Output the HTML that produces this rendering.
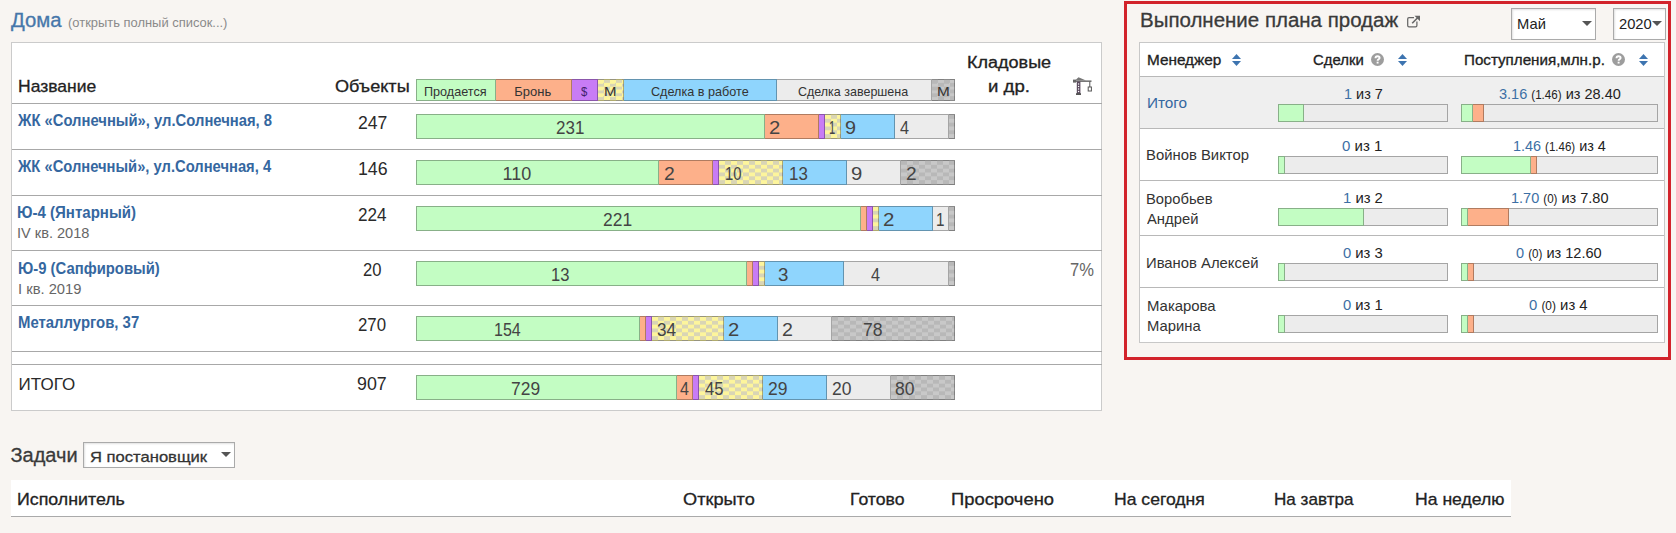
<!DOCTYPE html><html><head><meta charset="utf-8"><style>
*{margin:0;padding:0;box-sizing:border-box}
html,body{width:1676px;height:533px;overflow:hidden}
body{position:relative;background:#f8f5f2;font-family:"Liberation Sans",sans-serif;}
.t{position:absolute;white-space:nowrap;line-height:1;transform-origin:0 0}
.a{position:absolute}
</style></head><body><div class="a" style="left:11px;top:42px;width:1091px;height:369px;background:#fff;border:1px solid #cbcbcb"></div><div class="a" style="left:12px;top:103px;width:1090px;height:1px;background:#a8a8a8"></div><div class="a" style="left:12px;top:149px;width:1090px;height:1px;background:#a8a8a8"></div><div class="a" style="left:12px;top:195px;width:1090px;height:1px;background:#a8a8a8"></div><div class="a" style="left:12px;top:250px;width:1090px;height:1px;background:#a8a8a8"></div><div class="a" style="left:12px;top:305px;width:1090px;height:1px;background:#a8a8a8"></div><div class="a" style="left:12px;top:351px;width:1090px;height:1px;background:#a8a8a8"></div><div class="a" style="left:12px;top:364px;width:1090px;height:1px;background:#a8a8a8"></div><div class="a" style="left:416px;top:79px;width:539px;height:22px;background:#ececec"></div><div class="a" style="left:416px;top:79px;width:80px;height:22px;background:#c3fdc3;border-top:1px solid rgba(0,0,0,0.3);border-bottom:1px solid rgba(0,0,0,0.3);border-right:1px solid rgba(0,0,0,0.3);border-left:1px solid rgba(0,0,0,0.3);"></div><div class="a" style="left:496px;top:79px;width:76px;height:22px;background:#fdb08a;border-top:1px solid rgba(0,0,0,0.3);border-bottom:1px solid rgba(0,0,0,0.3);border-right:1px solid rgba(0,0,0,0.3);"></div><div class="a" style="left:572px;top:79px;width:26px;height:22px;background:#c87cf5;border-top:1px solid rgba(0,0,0,0.3);border-bottom:1px solid rgba(0,0,0,0.3);border-right:1px solid rgba(0,0,0,0.3);"></div><div class="a" style="left:598px;top:79px;width:26px;height:22px;background:conic-gradient(#d9d5b5 25%,#fdf59c 0 50%,#d9d5b5 0 75%,#fdf59c 0) 0 0/12px 33.333%;border-top:1px solid rgba(0,0,0,0.3);border-bottom:1px solid rgba(0,0,0,0.3);border-right:1px solid rgba(0,0,0,0.3);"></div><div class="a" style="left:624px;top:79px;width:153px;height:22px;background:#8fd5fd;border-top:1px solid rgba(0,0,0,0.3);border-bottom:1px solid rgba(0,0,0,0.3);border-right:1px solid rgba(0,0,0,0.3);"></div><div class="a" style="left:777px;top:79px;width:155px;height:22px;background:#ececec;border-top:1px solid rgba(0,0,0,0.3);border-bottom:1px solid rgba(0,0,0,0.3);border-right:1px solid rgba(0,0,0,0.3);"></div><div class="a" style="left:932px;top:79px;width:23px;height:22px;background:conic-gradient(#c8c8c8 25%,#b8b8b8 0 50%,#c8c8c8 0 75%,#b8b8b8 0) 0 0/12px 33.333%;border-top:1px solid rgba(0,0,0,0.3);border-bottom:1px solid rgba(0,0,0,0.3);border-right:1px solid rgba(0,0,0,0.3);"></div><div class="a" style="left:416px;top:114px;width:539px;height:25px;background:#ececec"></div><div class="a" style="left:416px;top:114px;width:349px;height:25px;background:#c3fdc3;border-top:1px solid rgba(0,0,0,0.3);border-bottom:1px solid rgba(0,0,0,0.3);border-right:1px solid rgba(0,0,0,0.3);border-left:1px solid rgba(0,0,0,0.3);"></div><div class="a" style="left:765px;top:114px;width:54px;height:25px;background:#fdb08a;border-top:1px solid rgba(0,0,0,0.3);border-bottom:1px solid rgba(0,0,0,0.3);border-right:1px solid rgba(0,0,0,0.3);"></div><div class="a" style="left:819px;top:114px;width:6px;height:25px;background:#c87cf5;border-top:1px solid rgba(0,0,0,0.3);border-bottom:1px solid rgba(0,0,0,0.3);border-right:1px solid rgba(0,0,0,0.3);"></div><div class="a" style="left:825px;top:114px;width:16px;height:25px;background:conic-gradient(#d9d5b5 25%,#fdf59c 0 50%,#d9d5b5 0 75%,#fdf59c 0) 0 0/12px 33.333%;border-top:1px solid rgba(0,0,0,0.3);border-bottom:1px solid rgba(0,0,0,0.3);border-right:1px solid rgba(0,0,0,0.3);"></div><div class="a" style="left:841px;top:114px;width:54px;height:25px;background:#8fd5fd;border-top:1px solid rgba(0,0,0,0.3);border-bottom:1px solid rgba(0,0,0,0.3);border-right:1px solid rgba(0,0,0,0.3);"></div><div class="a" style="left:895px;top:114px;width:54px;height:25px;background:#ececec;border-top:1px solid rgba(0,0,0,0.3);border-bottom:1px solid rgba(0,0,0,0.3);border-right:1px solid rgba(0,0,0,0.3);"></div><div class="a" style="left:949px;top:114px;width:6px;height:25px;background:conic-gradient(#c8c8c8 25%,#b8b8b8 0 50%,#c8c8c8 0 75%,#b8b8b8 0) 0 0/12px 33.333%;border-top:1px solid rgba(0,0,0,0.3);border-bottom:1px solid rgba(0,0,0,0.3);border-right:1px solid rgba(0,0,0,0.3);"></div><div class="a" style="left:416px;top:160px;width:539px;height:25px;background:#ececec"></div><div class="a" style="left:416px;top:160px;width:243px;height:25px;background:#c3fdc3;border-top:1px solid rgba(0,0,0,0.3);border-bottom:1px solid rgba(0,0,0,0.3);border-right:1px solid rgba(0,0,0,0.3);border-left:1px solid rgba(0,0,0,0.3);"></div><div class="a" style="left:659px;top:160px;width:54px;height:25px;background:#fdb08a;border-top:1px solid rgba(0,0,0,0.3);border-bottom:1px solid rgba(0,0,0,0.3);border-right:1px solid rgba(0,0,0,0.3);"></div><div class="a" style="left:713px;top:160px;width:6px;height:25px;background:#c87cf5;border-top:1px solid rgba(0,0,0,0.3);border-bottom:1px solid rgba(0,0,0,0.3);border-right:1px solid rgba(0,0,0,0.3);"></div><div class="a" style="left:719px;top:160px;width:64px;height:25px;background:conic-gradient(#d9d5b5 25%,#fdf59c 0 50%,#d9d5b5 0 75%,#fdf59c 0) 0 0/12px 33.333%;border-top:1px solid rgba(0,0,0,0.3);border-bottom:1px solid rgba(0,0,0,0.3);border-right:1px solid rgba(0,0,0,0.3);"></div><div class="a" style="left:783px;top:160px;width:64px;height:25px;background:#8fd5fd;border-top:1px solid rgba(0,0,0,0.3);border-bottom:1px solid rgba(0,0,0,0.3);border-right:1px solid rgba(0,0,0,0.3);"></div><div class="a" style="left:847px;top:160px;width:54px;height:25px;background:#ececec;border-top:1px solid rgba(0,0,0,0.3);border-bottom:1px solid rgba(0,0,0,0.3);border-right:1px solid rgba(0,0,0,0.3);"></div><div class="a" style="left:901px;top:160px;width:54px;height:25px;background:conic-gradient(#c8c8c8 25%,#b8b8b8 0 50%,#c8c8c8 0 75%,#b8b8b8 0) 0 0/12px 33.333%;border-top:1px solid rgba(0,0,0,0.3);border-bottom:1px solid rgba(0,0,0,0.3);border-right:1px solid rgba(0,0,0,0.3);"></div><div class="a" style="left:416px;top:206px;width:539px;height:25px;background:#ececec"></div><div class="a" style="left:416px;top:206px;width:445px;height:25px;background:#c3fdc3;border-top:1px solid rgba(0,0,0,0.3);border-bottom:1px solid rgba(0,0,0,0.3);border-right:1px solid rgba(0,0,0,0.3);border-left:1px solid rgba(0,0,0,0.3);"></div><div class="a" style="left:861px;top:206px;width:6px;height:25px;background:#fdb08a;border-top:1px solid rgba(0,0,0,0.3);border-bottom:1px solid rgba(0,0,0,0.3);border-right:1px solid rgba(0,0,0,0.3);"></div><div class="a" style="left:867px;top:206px;width:6px;height:25px;background:#c87cf5;border-top:1px solid rgba(0,0,0,0.3);border-bottom:1px solid rgba(0,0,0,0.3);border-right:1px solid rgba(0,0,0,0.3);"></div><div class="a" style="left:873px;top:206px;width:6px;height:25px;background:conic-gradient(#d9d5b5 25%,#fdf59c 0 50%,#d9d5b5 0 75%,#fdf59c 0) 0 0/12px 33.333%;border-top:1px solid rgba(0,0,0,0.3);border-bottom:1px solid rgba(0,0,0,0.3);border-right:1px solid rgba(0,0,0,0.3);"></div><div class="a" style="left:879px;top:206px;width:54px;height:25px;background:#8fd5fd;border-top:1px solid rgba(0,0,0,0.3);border-bottom:1px solid rgba(0,0,0,0.3);border-right:1px solid rgba(0,0,0,0.3);"></div><div class="a" style="left:933px;top:206px;width:16px;height:25px;background:#ececec;border-top:1px solid rgba(0,0,0,0.3);border-bottom:1px solid rgba(0,0,0,0.3);border-right:1px solid rgba(0,0,0,0.3);"></div><div class="a" style="left:949px;top:206px;width:6px;height:25px;background:conic-gradient(#c8c8c8 25%,#b8b8b8 0 50%,#c8c8c8 0 75%,#b8b8b8 0) 0 0/12px 33.333%;border-top:1px solid rgba(0,0,0,0.3);border-bottom:1px solid rgba(0,0,0,0.3);border-right:1px solid rgba(0,0,0,0.3);"></div><div class="a" style="left:416px;top:261px;width:539px;height:25px;background:#ececec"></div><div class="a" style="left:416px;top:261px;width:331px;height:25px;background:#c3fdc3;border-top:1px solid rgba(0,0,0,0.3);border-bottom:1px solid rgba(0,0,0,0.3);border-right:1px solid rgba(0,0,0,0.3);border-left:1px solid rgba(0,0,0,0.3);"></div><div class="a" style="left:747px;top:261px;width:6px;height:25px;background:#fdb08a;border-top:1px solid rgba(0,0,0,0.3);border-bottom:1px solid rgba(0,0,0,0.3);border-right:1px solid rgba(0,0,0,0.3);"></div><div class="a" style="left:753px;top:261px;width:6px;height:25px;background:#c87cf5;border-top:1px solid rgba(0,0,0,0.3);border-bottom:1px solid rgba(0,0,0,0.3);border-right:1px solid rgba(0,0,0,0.3);"></div><div class="a" style="left:759px;top:261px;width:6px;height:25px;background:conic-gradient(#d9d5b5 25%,#fdf59c 0 50%,#d9d5b5 0 75%,#fdf59c 0) 0 0/12px 33.333%;border-top:1px solid rgba(0,0,0,0.3);border-bottom:1px solid rgba(0,0,0,0.3);border-right:1px solid rgba(0,0,0,0.3);"></div><div class="a" style="left:765px;top:261px;width:79px;height:25px;background:#8fd5fd;border-top:1px solid rgba(0,0,0,0.3);border-bottom:1px solid rgba(0,0,0,0.3);border-right:1px solid rgba(0,0,0,0.3);"></div><div class="a" style="left:844px;top:261px;width:105px;height:25px;background:#ececec;border-top:1px solid rgba(0,0,0,0.3);border-bottom:1px solid rgba(0,0,0,0.3);border-right:1px solid rgba(0,0,0,0.3);"></div><div class="a" style="left:949px;top:261px;width:6px;height:25px;background:conic-gradient(#c8c8c8 25%,#b8b8b8 0 50%,#c8c8c8 0 75%,#b8b8b8 0) 0 0/12px 33.333%;border-top:1px solid rgba(0,0,0,0.3);border-bottom:1px solid rgba(0,0,0,0.3);border-right:1px solid rgba(0,0,0,0.3);"></div><div class="a" style="left:416px;top:316px;width:539px;height:25px;background:#ececec"></div><div class="a" style="left:416px;top:316px;width:224px;height:25px;background:#c3fdc3;border-top:1px solid rgba(0,0,0,0.3);border-bottom:1px solid rgba(0,0,0,0.3);border-right:1px solid rgba(0,0,0,0.3);border-left:1px solid rgba(0,0,0,0.3);"></div><div class="a" style="left:640px;top:316px;width:6px;height:25px;background:#fdb08a;border-top:1px solid rgba(0,0,0,0.3);border-bottom:1px solid rgba(0,0,0,0.3);border-right:1px solid rgba(0,0,0,0.3);"></div><div class="a" style="left:646px;top:316px;width:6px;height:25px;background:#c87cf5;border-top:1px solid rgba(0,0,0,0.3);border-bottom:1px solid rgba(0,0,0,0.3);border-right:1px solid rgba(0,0,0,0.3);"></div><div class="a" style="left:652px;top:316px;width:72px;height:25px;background:conic-gradient(#d9d5b5 25%,#fdf59c 0 50%,#d9d5b5 0 75%,#fdf59c 0) 0 0/12px 33.333%;border-top:1px solid rgba(0,0,0,0.3);border-bottom:1px solid rgba(0,0,0,0.3);border-right:1px solid rgba(0,0,0,0.3);"></div><div class="a" style="left:724px;top:316px;width:54px;height:25px;background:#8fd5fd;border-top:1px solid rgba(0,0,0,0.3);border-bottom:1px solid rgba(0,0,0,0.3);border-right:1px solid rgba(0,0,0,0.3);"></div><div class="a" style="left:778px;top:316px;width:54px;height:25px;background:#ececec;border-top:1px solid rgba(0,0,0,0.3);border-bottom:1px solid rgba(0,0,0,0.3);border-right:1px solid rgba(0,0,0,0.3);"></div><div class="a" style="left:832px;top:316px;width:123px;height:25px;background:conic-gradient(#c8c8c8 25%,#b8b8b8 0 50%,#c8c8c8 0 75%,#b8b8b8 0) 0 0/12px 33.333%;border-top:1px solid rgba(0,0,0,0.3);border-bottom:1px solid rgba(0,0,0,0.3);border-right:1px solid rgba(0,0,0,0.3);"></div><div class="a" style="left:416px;top:375px;width:539px;height:25px;background:#ececec"></div><div class="a" style="left:416px;top:375px;width:261px;height:25px;background:#c3fdc3;border-top:1px solid rgba(0,0,0,0.3);border-bottom:1px solid rgba(0,0,0,0.3);border-right:1px solid rgba(0,0,0,0.3);border-left:1px solid rgba(0,0,0,0.3);"></div><div class="a" style="left:677px;top:375px;width:16px;height:25px;background:#fdb08a;border-top:1px solid rgba(0,0,0,0.3);border-bottom:1px solid rgba(0,0,0,0.3);border-right:1px solid rgba(0,0,0,0.3);"></div><div class="a" style="left:693px;top:375px;width:6px;height:25px;background:#c87cf5;border-top:1px solid rgba(0,0,0,0.3);border-bottom:1px solid rgba(0,0,0,0.3);border-right:1px solid rgba(0,0,0,0.3);"></div><div class="a" style="left:699px;top:375px;width:64px;height:25px;background:conic-gradient(#d9d5b5 25%,#fdf59c 0 50%,#d9d5b5 0 75%,#fdf59c 0) 0 0/12px 33.333%;border-top:1px solid rgba(0,0,0,0.3);border-bottom:1px solid rgba(0,0,0,0.3);border-right:1px solid rgba(0,0,0,0.3);"></div><div class="a" style="left:763px;top:375px;width:64px;height:25px;background:#8fd5fd;border-top:1px solid rgba(0,0,0,0.3);border-bottom:1px solid rgba(0,0,0,0.3);border-right:1px solid rgba(0,0,0,0.3);"></div><div class="a" style="left:827px;top:375px;width:64px;height:25px;background:#ececec;border-top:1px solid rgba(0,0,0,0.3);border-bottom:1px solid rgba(0,0,0,0.3);border-right:1px solid rgba(0,0,0,0.3);"></div><div class="a" style="left:891px;top:375px;width:64px;height:25px;background:conic-gradient(#c8c8c8 25%,#b8b8b8 0 50%,#c8c8c8 0 75%,#b8b8b8 0) 0 0/12px 33.333%;border-top:1px solid rgba(0,0,0,0.3);border-bottom:1px solid rgba(0,0,0,0.3);border-right:1px solid rgba(0,0,0,0.3);"></div><div class="a" style="left:1124px;top:1px;width:547px;height:359px;border:3px solid #d2232b"></div><div class="a" style="left:1511px;top:8px;width:85px;height:32px;background:#fff;border:1px solid #aaa;box-shadow:inset 1px 1px 2px rgba(0,0,0,.12)"></div><div class="a" style="left:1613px;top:8px;width:53px;height:32px;background:#fff;border:1px solid #aaa;box-shadow:inset 1px 1px 2px rgba(0,0,0,.12)"></div><div class="a" style="left:1139px;top:42px;width:526px;height:301px;background:#fff;border:1px solid #c8c8c8"></div><div class="a" style="left:1140px;top:76px;width:524px;height:52px;background:#efefef"></div><div class="a" style="left:1140px;top:76px;width:524px;height:1px;background:#b8b8b8"></div><div class="a" style="left:1140px;top:128px;width:524px;height:1px;background:#b8b8b8"></div><div class="a" style="left:1140px;top:180px;width:524px;height:1px;background:#b8b8b8"></div><div class="a" style="left:1140px;top:235px;width:524px;height:1px;background:#b8b8b8"></div><div class="a" style="left:1140px;top:287px;width:524px;height:1px;background:#b8b8b8"></div><div class="a" style="left:1278px;top:104px;width:170px;height:18px;background:#ececec"></div><div class="a" style="left:1278px;top:104px;width:26px;height:18px;background:#c3fdc3;border-top:1px solid rgba(0,0,0,0.3);border-bottom:1px solid rgba(0,0,0,0.3);border-right:1px solid rgba(0,0,0,0.3);border-left:1px solid rgba(0,0,0,0.3);"></div><div class="a" style="left:1304px;top:104px;width:144px;height:18px;background:#ececec;border-top:1px solid rgba(0,0,0,0.3);border-bottom:1px solid rgba(0,0,0,0.3);border-right:1px solid rgba(0,0,0,0.3);"></div><div class="a" style="left:1461px;top:104px;width:197px;height:18px;background:#ececec"></div><div class="a" style="left:1461px;top:104px;width:12px;height:18px;background:#c3fdc3;border-top:1px solid rgba(0,0,0,0.3);border-bottom:1px solid rgba(0,0,0,0.3);border-right:1px solid rgba(0,0,0,0.3);border-left:1px solid rgba(0,0,0,0.3);"></div><div class="a" style="left:1473px;top:104px;width:11px;height:18px;background:#fdb08a;border-top:1px solid rgba(0,0,0,0.3);border-bottom:1px solid rgba(0,0,0,0.3);border-right:1px solid rgba(0,0,0,0.3);"></div><div class="a" style="left:1484px;top:104px;width:174px;height:18px;background:#ececec;border-top:1px solid rgba(0,0,0,0.3);border-bottom:1px solid rgba(0,0,0,0.3);border-right:1px solid rgba(0,0,0,0.3);"></div><div class="a" style="left:1278px;top:156px;width:170px;height:18px;background:#ececec"></div><div class="a" style="left:1278px;top:156px;width:7px;height:18px;background:#c3fdc3;border-top:1px solid rgba(0,0,0,0.3);border-bottom:1px solid rgba(0,0,0,0.3);border-right:1px solid rgba(0,0,0,0.3);border-left:1px solid rgba(0,0,0,0.3);"></div><div class="a" style="left:1285px;top:156px;width:163px;height:18px;background:#ececec;border-top:1px solid rgba(0,0,0,0.3);border-bottom:1px solid rgba(0,0,0,0.3);border-right:1px solid rgba(0,0,0,0.3);"></div><div class="a" style="left:1461px;top:156px;width:197px;height:18px;background:#ececec"></div><div class="a" style="left:1461px;top:156px;width:70px;height:18px;background:#c3fdc3;border-top:1px solid rgba(0,0,0,0.3);border-bottom:1px solid rgba(0,0,0,0.3);border-right:1px solid rgba(0,0,0,0.3);border-left:1px solid rgba(0,0,0,0.3);"></div><div class="a" style="left:1531px;top:156px;width:6px;height:18px;background:#fdb08a;border-top:1px solid rgba(0,0,0,0.3);border-bottom:1px solid rgba(0,0,0,0.3);border-right:1px solid rgba(0,0,0,0.3);"></div><div class="a" style="left:1537px;top:156px;width:121px;height:18px;background:#ececec;border-top:1px solid rgba(0,0,0,0.3);border-bottom:1px solid rgba(0,0,0,0.3);border-right:1px solid rgba(0,0,0,0.3);"></div><div class="a" style="left:1278px;top:208px;width:170px;height:18px;background:#ececec"></div><div class="a" style="left:1278px;top:208px;width:86px;height:18px;background:#c3fdc3;border-top:1px solid rgba(0,0,0,0.3);border-bottom:1px solid rgba(0,0,0,0.3);border-right:1px solid rgba(0,0,0,0.3);border-left:1px solid rgba(0,0,0,0.3);"></div><div class="a" style="left:1364px;top:208px;width:84px;height:18px;background:#ececec;border-top:1px solid rgba(0,0,0,0.3);border-bottom:1px solid rgba(0,0,0,0.3);border-right:1px solid rgba(0,0,0,0.3);"></div><div class="a" style="left:1461px;top:208px;width:197px;height:18px;background:#ececec"></div><div class="a" style="left:1461px;top:208px;width:7px;height:18px;background:#c3fdc3;border-top:1px solid rgba(0,0,0,0.3);border-bottom:1px solid rgba(0,0,0,0.3);border-right:1px solid rgba(0,0,0,0.3);border-left:1px solid rgba(0,0,0,0.3);"></div><div class="a" style="left:1468px;top:208px;width:41px;height:18px;background:#fdb08a;border-top:1px solid rgba(0,0,0,0.3);border-bottom:1px solid rgba(0,0,0,0.3);border-right:1px solid rgba(0,0,0,0.3);"></div><div class="a" style="left:1509px;top:208px;width:149px;height:18px;background:#ececec;border-top:1px solid rgba(0,0,0,0.3);border-bottom:1px solid rgba(0,0,0,0.3);border-right:1px solid rgba(0,0,0,0.3);"></div><div class="a" style="left:1278px;top:263px;width:170px;height:18px;background:#ececec"></div><div class="a" style="left:1278px;top:263px;width:7px;height:18px;background:#c3fdc3;border-top:1px solid rgba(0,0,0,0.3);border-bottom:1px solid rgba(0,0,0,0.3);border-right:1px solid rgba(0,0,0,0.3);border-left:1px solid rgba(0,0,0,0.3);"></div><div class="a" style="left:1285px;top:263px;width:163px;height:18px;background:#ececec;border-top:1px solid rgba(0,0,0,0.3);border-bottom:1px solid rgba(0,0,0,0.3);border-right:1px solid rgba(0,0,0,0.3);"></div><div class="a" style="left:1461px;top:263px;width:197px;height:18px;background:#ececec"></div><div class="a" style="left:1461px;top:263px;width:7px;height:18px;background:#c3fdc3;border-top:1px solid rgba(0,0,0,0.3);border-bottom:1px solid rgba(0,0,0,0.3);border-right:1px solid rgba(0,0,0,0.3);border-left:1px solid rgba(0,0,0,0.3);"></div><div class="a" style="left:1468px;top:263px;width:6px;height:18px;background:#fdb08a;border-top:1px solid rgba(0,0,0,0.3);border-bottom:1px solid rgba(0,0,0,0.3);border-right:1px solid rgba(0,0,0,0.3);"></div><div class="a" style="left:1474px;top:263px;width:184px;height:18px;background:#ececec;border-top:1px solid rgba(0,0,0,0.3);border-bottom:1px solid rgba(0,0,0,0.3);border-right:1px solid rgba(0,0,0,0.3);"></div><div class="a" style="left:1278px;top:315px;width:170px;height:18px;background:#ececec"></div><div class="a" style="left:1278px;top:315px;width:7px;height:18px;background:#c3fdc3;border-top:1px solid rgba(0,0,0,0.3);border-bottom:1px solid rgba(0,0,0,0.3);border-right:1px solid rgba(0,0,0,0.3);border-left:1px solid rgba(0,0,0,0.3);"></div><div class="a" style="left:1285px;top:315px;width:163px;height:18px;background:#ececec;border-top:1px solid rgba(0,0,0,0.3);border-bottom:1px solid rgba(0,0,0,0.3);border-right:1px solid rgba(0,0,0,0.3);"></div><div class="a" style="left:1461px;top:315px;width:197px;height:18px;background:#ececec"></div><div class="a" style="left:1461px;top:315px;width:7px;height:18px;background:#c3fdc3;border-top:1px solid rgba(0,0,0,0.3);border-bottom:1px solid rgba(0,0,0,0.3);border-right:1px solid rgba(0,0,0,0.3);border-left:1px solid rgba(0,0,0,0.3);"></div><div class="a" style="left:1468px;top:315px;width:6px;height:18px;background:#fdb08a;border-top:1px solid rgba(0,0,0,0.3);border-bottom:1px solid rgba(0,0,0,0.3);border-right:1px solid rgba(0,0,0,0.3);"></div><div class="a" style="left:1474px;top:315px;width:184px;height:18px;background:#ececec;border-top:1px solid rgba(0,0,0,0.3);border-bottom:1px solid rgba(0,0,0,0.3);border-right:1px solid rgba(0,0,0,0.3);"></div><div class="a" style="left:83px;top:442px;width:152px;height:26px;background:#fff;border:1px solid #aaa;box-shadow:inset 1px 1px 2px rgba(0,0,0,.12)"></div><div class="a" style="left:11px;top:480px;width:1500px;height:37px;background:#fff;border-bottom:1px solid #aaa"></div><div class="t" style="left:11.20px;top:10.00px;font-size:20px;-webkit-text-stroke:0.30px currentColor;transform:scaleX(1.0160);color:#4677aa">Дома</div><div class="t" style="left:67.51px;top:16.00px;font-size:13px;font-weight:normal;transform:scaleX(0.9943);color:#8a8a8a">(открыть полный список...)</div><div class="t" style="left:18.37px;top:78.00px;font-size:17px;-webkit-text-stroke:0.30px currentColor;transform:scaleX(1.0307);color:#222">Название</div><div class="t" style="left:334.94px;top:78.00px;font-size:17px;-webkit-text-stroke:0.30px currentColor;transform:scaleX(1.0647);color:#222">Объекты</div><div class="t" style="left:424.33px;top:85.00px;font-size:13px;font-weight:normal;transform:scaleX(0.9714);color:#333">Продается</div><div class="t" style="left:514.30px;top:85.00px;font-size:13px;font-weight:normal;color:#333">Бронь</div><div class="t" style="left:581.30px;top:85.00px;font-size:13px;font-weight:normal;transform:scaleX(0.8714);color:#40206a">$</div><div class="t" style="left:604.24px;top:85.00px;font-size:13px;font-weight:normal;transform:scaleX(1.1556);color:#333">М</div><div class="t" style="left:650.83px;top:85.00px;font-size:13px;font-weight:normal;transform:scaleX(0.9717);color:#333">Сделка в работе</div><div class="t" style="left:798.04px;top:85.00px;font-size:13px;font-weight:normal;transform:scaleX(0.9605);color:#333">Сделка завершена</div><div class="t" style="left:936.52px;top:85.00px;font-size:13px;font-weight:normal;transform:scaleX(1.1778);color:#333">М</div><div class="t" style="left:967.47px;top:55.00px;font-size:16px;-webkit-text-stroke:0.30px currentColor;transform:scaleX(1.1260);color:#222">Кладовые</div><div class="t" style="left:988.34px;top:79.00px;font-size:16px;-webkit-text-stroke:0.30px currentColor;transform:scaleX(1.1618);color:#222">и др.</div><div class="t" style="left:18.40px;top:113.00px;font-size:16px;font-weight:bold;transform:scaleX(0.9252);color:#3567a0">ЖК «Солнечный», ул.Солнечная, 8</div><div class="t" style="left:18.40px;top:159.00px;font-size:16px;font-weight:bold;transform:scaleX(0.9218);color:#3567a0">ЖК «Солнечный», ул.Солнечная, 4</div><div class="t" style="left:17.46px;top:205.00px;font-size:16px;font-weight:bold;transform:scaleX(0.9392);color:#3567a0">Ю-4 (Янтарный)</div><div class="t" style="left:17.43px;top:225.00px;font-size:15px;font-weight:normal;transform:scaleX(0.9712);color:#666">IV кв. 2018</div><div class="t" style="left:17.57px;top:261.00px;font-size:16px;font-weight:bold;transform:scaleX(0.9272);color:#3567a0">Ю-9 (Сапфировый)</div><div class="t" style="left:17.52px;top:281.00px;font-size:15px;font-weight:normal;transform:scaleX(0.9825);color:#666">I кв. 2019</div><div class="t" style="left:17.57px;top:315.00px;font-size:16px;font-weight:bold;transform:scaleX(0.9318);color:#3567a0">Металлургов, 37</div><div class="t" style="left:18.60px;top:376.00px;font-size:17px;font-weight:normal;color:#2a2a2a">ИТОГО</div><div class="t" style="left:357.62px;top:114.00px;font-size:18px;font-weight:normal;transform:scaleX(0.9786);color:#2a2a2a">247</div><div class="t" style="left:357.51px;top:160.00px;font-size:18px;font-weight:normal;transform:scaleX(0.9857);color:#2a2a2a">146</div><div class="t" style="left:357.55px;top:206.00px;font-size:18px;font-weight:normal;transform:scaleX(0.9517);color:#2a2a2a">224</div><div class="t" style="left:362.58px;top:261.00px;font-size:18px;font-weight:normal;transform:scaleX(0.9211);color:#2a2a2a">20</div><div class="t" style="left:357.77px;top:316.00px;font-size:18px;font-weight:normal;transform:scaleX(0.9345);color:#2a2a2a">270</div><div class="t" style="left:357.11px;top:375.00px;font-size:18px;font-weight:normal;transform:scaleX(0.9893);color:#2a2a2a">907</div><div class="t" style="left:1070.08px;top:261.00px;font-size:18px;font-weight:normal;transform:scaleX(0.9200);color:#666">7%</div><div class="t" style="left:555.56px;top:119.00px;font-size:18px;font-weight:normal;transform:scaleX(0.9429);color:#444">231</div><div class="t" style="left:769.27px;top:119.00px;font-size:18px;font-weight:normal;transform:scaleX(1.1250);color:#444">2</div><div class="t" style="left:828.98px;top:119.00px;font-size:18px;font-weight:normal;transform:scaleX(0.6250);color:#444">1</div><div class="t" style="left:845.40px;top:119.00px;font-size:18px;font-weight:normal;transform:scaleX(1.1000);color:#444">9</div><div class="t" style="left:900.40px;top:119.00px;font-size:18px;font-weight:normal;transform:scaleX(0.9000);color:#444">4</div><div class="t" style="left:502.60px;top:165.00px;font-size:18px;font-weight:normal;color:#444">110</div><div class="t" style="left:663.52px;top:165.00px;font-size:18px;font-weight:normal;transform:scaleX(1.0750);color:#444">2</div><div class="t" style="left:725.47px;top:165.00px;font-size:18px;font-weight:normal;transform:scaleX(0.8263);color:#444">10</div><div class="t" style="left:788.56px;top:165.00px;font-size:18px;font-weight:normal;transform:scaleX(0.9389);color:#444">13</div><div class="t" style="left:851.48px;top:165.00px;font-size:18px;font-weight:normal;transform:scaleX(1.1250);color:#444">9</div><div class="t" style="left:905.64px;top:165.00px;font-size:18px;font-weight:normal;transform:scaleX(1.0625);color:#444">2</div><div class="t" style="left:602.83px;top:211.00px;font-size:18px;font-weight:normal;transform:scaleX(0.9679);color:#444">221</div><div class="t" style="left:882.96px;top:211.00px;font-size:18px;font-weight:normal;transform:scaleX(1.1375);color:#444">2</div><div class="t" style="left:936.15px;top:211.00px;font-size:18px;font-weight:normal;transform:scaleX(0.8500);color:#444">1</div><div class="t" style="left:551.48px;top:266.00px;font-size:18px;font-weight:normal;transform:scaleX(0.9222);color:#444">13</div><div class="t" style="left:777.86px;top:266.00px;font-size:18px;font-weight:normal;transform:scaleX(1.0375);color:#444">3</div><div class="t" style="left:870.70px;top:266.00px;font-size:18px;font-weight:normal;transform:scaleX(0.9000);color:#444">4</div><div class="t" style="left:493.81px;top:321.00px;font-size:18px;font-weight:normal;transform:scaleX(0.8897);color:#444">154</div><div class="t" style="left:656.75px;top:321.00px;font-size:18px;font-weight:normal;transform:scaleX(0.9526);color:#444">34</div><div class="t" style="left:727.88px;top:321.00px;font-size:18px;font-weight:normal;transform:scaleX(1.1250);color:#444">2</div><div class="t" style="left:781.91px;top:321.00px;font-size:18px;font-weight:normal;transform:scaleX(1.0875);color:#444">2</div><div class="t" style="left:862.72px;top:321.00px;font-size:18px;font-weight:normal;transform:scaleX(0.9778);color:#444">78</div><div class="t" style="left:511.23px;top:380.00px;font-size:18px;font-weight:normal;transform:scaleX(0.9679);color:#444">729</div><div class="t" style="left:679.70px;top:380.00px;font-size:18px;font-weight:normal;transform:scaleX(0.8900);color:#444">4</div><div class="t" style="left:704.50px;top:380.00px;font-size:18px;font-weight:normal;transform:scaleX(0.9211);color:#444">45</div><div class="t" style="left:767.73px;top:380.00px;font-size:18px;font-weight:normal;transform:scaleX(0.9722);color:#444">29</div><div class="t" style="left:831.53px;top:380.00px;font-size:18px;font-weight:normal;transform:scaleX(0.9737);color:#444">20</div><div class="t" style="left:895.23px;top:380.00px;font-size:18px;font-weight:normal;transform:scaleX(0.9737);color:#444">80</div><div class="t" style="left:1139.98px;top:10.00px;font-size:20px;-webkit-text-stroke:0.30px currentColor;transform:scaleX(1.0239);color:#3a3a3a">Выполнение плана продаж</div><div class="t" style="left:1516.52px;top:16.00px;font-size:15px;font-weight:normal;transform:scaleX(0.9821);color:#222">Май</div><div class="t" style="left:1618.62px;top:16.00px;font-size:15px;font-weight:normal;transform:scaleX(0.9813);color:#222">2020</div><div class="t" style="left:1146.61px;top:53.00px;font-size:14px;-webkit-text-stroke:0.30px currentColor;transform:scaleX(1.0940);color:#222">Менеджер</div><div class="t" style="left:1312.70px;top:53.00px;font-size:14px;-webkit-text-stroke:0.30px currentColor;transform:scaleX(1.0638);color:#222">Сделки</div><div class="t" style="left:1464.32px;top:53.00px;font-size:14px;-webkit-text-stroke:0.30px currentColor;transform:scaleX(1.0828);color:#222">Поступления,млн.р.</div><div class="t" style="left:1146.68px;top:95.00px;font-size:15px;font-weight:normal;transform:scaleX(1.0211);color:#3567a0">Итого</div><div class="t" style="left:1146.21px;top:147.00px;font-size:15px;font-weight:normal;transform:scaleX(0.9903);color:#333">Войнов Виктор</div><div class="t" style="left:1146.22px;top:191.00px;font-size:15px;font-weight:normal;transform:scaleX(0.9833);color:#333">Воробьев</div><div class="t" style="left:1147.20px;top:211.00px;font-size:15px;font-weight:normal;transform:scaleX(0.9863);color:#333">Андрей</div><div class="t" style="left:1145.81px;top:255.00px;font-size:15px;font-weight:normal;transform:scaleX(0.9884);color:#333">Иванов Алексей</div><div class="t" style="left:1146.51px;top:298.00px;font-size:15px;font-weight:normal;transform:scaleX(0.9941);color:#333">Макарова</div><div class="t" style="left:1146.51px;top:318.00px;font-size:15px;font-weight:normal;transform:scaleX(0.9870);color:#333">Марина</div><div class="t" style="left:1343.64px;top:86.00px;font-size:15px;font-weight:normal;transform:scaleX(0.9641);color:#222"><span style="color:#3c6fa5">1</span> из 7</div><div class="t" style="left:1342.00px;top:138.00px;font-size:15px;font-weight:normal;color:#222"><span style="color:#3c6fa5">0</span> из 1</div><div class="t" style="left:1342.51px;top:190.00px;font-size:15px;font-weight:normal;transform:scaleX(0.9897);color:#222"><span style="color:#3c6fa5">1</span> из 2</div><div class="t" style="left:1342.51px;top:245.00px;font-size:15px;font-weight:normal;transform:scaleX(0.9872);color:#222"><span style="color:#3c6fa5">0</span> из 3</div><div class="t" style="left:1342.51px;top:297.00px;font-size:15px;font-weight:normal;transform:scaleX(0.9872);color:#222"><span style="color:#3c6fa5">0</span> из 1</div><div class="t" style="left:1498.53px;top:86.00px;font-size:15px;font-weight:normal;transform:scaleX(0.9677);color:#222"><span style="color:#3c6fa5">3.16</span> <span style="font-size:12px">(1.46)</span> из 28.40</div><div class="t" style="left:1513.44px;top:138.00px;font-size:15px;font-weight:normal;transform:scaleX(0.9600);color:#222"><span style="color:#3c6fa5">1.46</span> <span style="font-size:12px">(1.46)</span> из 4</div><div class="t" style="left:1510.73px;top:190.00px;font-size:15px;font-weight:normal;transform:scaleX(0.9667);color:#222"><span style="color:#3c6fa5">1.70</span> <span style="font-size:12px">(0)</span> из 7.80</div><div class="t" style="left:1516.33px;top:245.00px;font-size:15px;font-weight:normal;transform:scaleX(0.9701);color:#222"><span style="color:#3c6fa5">0</span> <span style="font-size:12px">(0)</span> из 12.60</div><div class="t" style="left:1529.41px;top:297.00px;font-size:15px;font-weight:normal;transform:scaleX(0.9914);color:#222"><span style="color:#3c6fa5">0</span> <span style="font-size:12px">(0)</span> из 4</div><div class="t" style="left:10.50px;top:445.00px;font-size:20px;-webkit-text-stroke:0.30px currentColor;color:#3a3a3a">Задачи</div><div class="t" style="left:89.89px;top:449.00px;font-size:15px;-webkit-text-stroke:0.30px currentColor;transform:scaleX(1.1057);color:#333">Я постановщик</div><div class="t" style="left:17.15px;top:491.00px;font-size:17px;-webkit-text-stroke:0.30px currentColor;transform:scaleX(1.0461);color:#222">Исполнитель</div><div class="t" style="left:682.63px;top:491.00px;font-size:17px;-webkit-text-stroke:0.30px currentColor;transform:scaleX(1.0697);color:#222">Открыто</div><div class="t" style="left:849.56px;top:491.00px;font-size:17px;-webkit-text-stroke:0.30px currentColor;transform:scaleX(1.0392);color:#222">Готово</div><div class="t" style="left:950.92px;top:491.00px;font-size:17px;-webkit-text-stroke:0.30px currentColor;transform:scaleX(1.0809);color:#222">Просрочено</div><div class="t" style="left:1114.07px;top:491.00px;font-size:17px;-webkit-text-stroke:0.30px currentColor;transform:scaleX(1.0337);color:#222">На сегодня</div><div class="t" style="left:1274.49px;top:491.00px;font-size:17px;-webkit-text-stroke:0.30px currentColor;transform:scaleX(1.0051);color:#222">На завтра</div><div class="t" style="left:1414.56px;top:491.00px;font-size:17px;-webkit-text-stroke:0.30px currentColor;transform:scaleX(1.0353);color:#222">На неделю</div><svg class="a" style="left:1582px;top:21px" width="10" height="5"><polygon points="0,0 10,0 5,5" fill="#555"/></svg><svg class="a" style="left:1652px;top:21px" width="10" height="5"><polygon points="0,0 10,0 5,5" fill="#555"/></svg><svg class="a" style="left:221px;top:452px" width="10" height="5"><polygon points="0,0 10,0 5,5" fill="#555"/></svg><svg class="a" style="left:1232px;top:54px" width="9" height="12"><polygon points="0,5 4.5,0 9,5" fill="#3d74b0"/><polygon points="0,7 9,7 4.5,12" fill="#3d74b0"/></svg><svg class="a" style="left:1398px;top:54px" width="9" height="12"><polygon points="0,5 4.5,0 9,5" fill="#3d74b0"/><polygon points="0,7 9,7 4.5,12" fill="#3d74b0"/></svg><svg class="a" style="left:1639px;top:54px" width="9" height="12"><polygon points="0,5 4.5,0 9,5" fill="#3d74b0"/><polygon points="0,7 9,7 4.5,12" fill="#3d74b0"/></svg><svg class="a" style="left:1371.3px;top:53px" width="13" height="13"><circle cx="6.5" cy="6.5" r="6.5" fill="#9d9d9d"/><path d="M4.5,5.3 C4.5,3.9 5.4,3.2 6.5,3.2 C7.7,3.2 8.6,3.9 8.6,5 C8.6,6.3 6.6,6.4 6.6,7.8" fill="none" stroke="#fff" stroke-width="1.9"/><rect x="5.65" y="8.7" width="1.9" height="1.8" fill="#fff"/></svg><svg class="a" style="left:1612.3px;top:53px" width="13" height="13"><circle cx="6.5" cy="6.5" r="6.5" fill="#9d9d9d"/><path d="M4.5,5.3 C4.5,3.9 5.4,3.2 6.5,3.2 C7.7,3.2 8.6,3.9 8.6,5 C8.6,6.3 6.6,6.4 6.6,7.8" fill="none" stroke="#fff" stroke-width="1.9"/><rect x="5.65" y="8.7" width="1.9" height="1.8" fill="#fff"/></svg><svg class="a" style="left:1072px;top:76px" width="21" height="20" viewBox="0 0 21 20"><path d="M1.5,4.5 L19.5,4.5 L19.5,5.8 L1.5,5.8 Z" fill="#555"/><path d="M3,4.5 L6.5,1.2 L14,4.5 Z" fill="#777"/><rect x="1" y="3.6" width="3" height="3" fill="#666"/><rect x="4.8" y="5.5" width="3.6" height="12.5" fill="#5a4a5e"/><circle cx="6.6" cy="8" r="0.7" fill="#fff"/><circle cx="6.6" cy="10.5" r="0.7" fill="#fff"/><circle cx="6.6" cy="13" r="0.7" fill="#fff"/><circle cx="6.6" cy="15.5" r="0.7" fill="#fff"/><rect x="4" y="17.2" width="5" height="1.8" fill="#555"/><rect x="17.3" y="5.5" width="1" height="5.5" fill="#555"/><rect x="16.2" y="11" width="3.2" height="4" fill="none" stroke="#555" stroke-width="1"/></svg><svg class="a" style="left:1406px;top:15px" width="15" height="13" viewBox="0 0 15 13"><path d="M8,2.7 L3,2.7 Q1.7,2.7 1.7,4 L1.7,10.6 Q1.7,11.9 3,11.9 L9.6,11.9 Q10.9,11.9 10.9,10.6 L10.9,6.5" fill="none" stroke="#666" stroke-width="1.25"/><path d="M6.2,8.2 L12.2,2.2" stroke="#666" stroke-width="1.6"/><polygon points="8.5,0.8 14,0.8 14,6.3" fill="#666"/></svg></body></html>
